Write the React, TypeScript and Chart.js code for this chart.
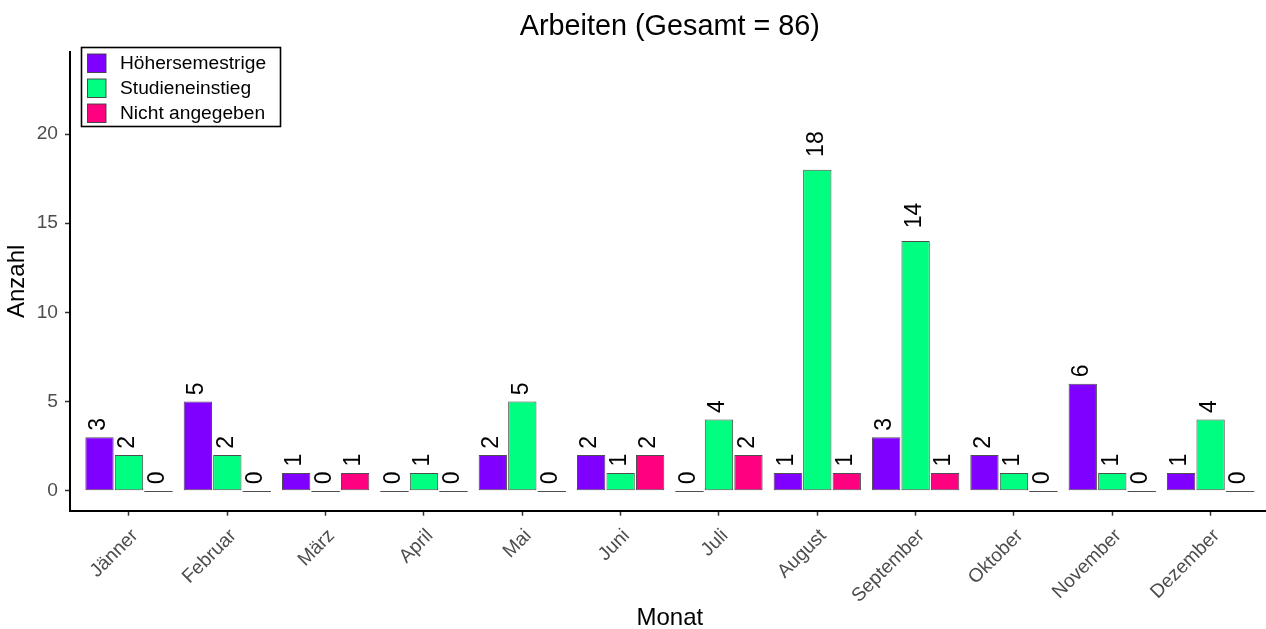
import React, { useEffect, useRef } from 'react';
import { Chart, registerables } from 'chart.js';

Chart.register(...registerables);

const months = ['Jänner', 'Februar', 'März', 'April', 'Mai', 'Juni', 'Juli', 'August', 'September', 'Oktober', 'November', 'Dezember'];
const hoehersemestrige = [3, 5, 1, 0, 2, 2, 0, 1, 3, 2, 6, 1];
const studieneinstieg = [2, 2, 0, 1, 5, 1, 4, 18, 14, 1, 1, 4];
const nichtAngegeben = [0, 0, 1, 0, 0, 2, 2, 1, 1, 0, 0, 0];
const seriesNames = ['Höhersemestrige', 'Studieneinstieg', 'Nicht angegeben'];
const seriesColors = ['#8000FF', '#00FF80', '#FF0080'];
const yTicks = [0, 5, 10, 15, 20];
const xTitle = 'Monat';
const yTitle = 'Anzahl';

const FONT = '"Liberation Sans", Arial, Helvetica, sans-serif';

export default function App() {
  const ref = useRef<HTMLCanvasElement | null>(null);

  useEffect(() => {
    if (!ref.current) return;
    const seriesValues = [hoehersemestrige, studieneinstieg, nichtAngegeben];
    const total = seriesValues.reduce((s, arr) => s + arr.reduce((a, b) => a + b, 0), 0);
    const titleText = `Arbeiten (Gesamt = ${total})`;

    const annot = {
      id: 'annot',
      afterDatasetsDraw(chart: any) {
        const ctx = chart.ctx;
        chart.data.datasets.forEach((ds: any, i: number) => {
          const meta = chart.getDatasetMeta(i);
          meta.data.forEach((bar: any, j: number) => {
            const v = ds.data[j].y;
            const p = bar.getProps(['x', 'y', 'base', 'width'], true);
            if (v === 0) {
              ctx.save();
              ctx.strokeStyle = 'rgba(60,60,60,0.9)';
              ctx.lineWidth = 1;
              ctx.beginPath();
              ctx.moveTo(p.x - p.width / 2, Math.round(p.base) + 0.5);
              ctx.lineTo(p.x + p.width / 2, Math.round(p.base) + 0.5);
              ctx.stroke();
              ctx.restore();
            }
            const text = String(v);
            ctx.save();
            ctx.font = `23px ${FONT}`;
            ctx.fillStyle = '#000';
            ctx.translate(p.x - 1, p.y);
            ctx.rotate(-Math.PI / 2);
            const w = ctx.measureText(text).width;
            ctx.textAlign = 'left';
            ctx.textBaseline = 'middle';
            ctx.fillText(text, 0.5 * w, 0);
            ctx.restore();
          });
        });
      },
      afterDraw(chart: any) {
        const ctx = chart.ctx;
        const ca = chart.chartArea;
        ctx.save();
        // title
        ctx.font = `28.8px ${FONT}`;
        ctx.fillStyle = '#000';
        ctx.textAlign = 'center';
        ctx.textBaseline = 'alphabetic';
        ctx.fillText(titleText, (ca.left + ca.right) / 2, 35);
        // legend
        const bx = 81.5, by = 47.5, bw = 199, bh = 79;
        ctx.fillStyle = '#fff';
        ctx.fillRect(bx, by, bw, bh);
        ctx.strokeStyle = '#000';
        ctx.lineWidth = 1.6;
        ctx.strokeRect(bx, by, bw, bh);
        ctx.font = `19.2px ${FONT}`;
        ctx.textAlign = 'left';
        ctx.textBaseline = 'middle';
        seriesNames.forEach((name, k) => {
          const cy = 63 + k * 25;
          ctx.fillStyle = seriesColors[k];
          ctx.fillRect(87.5, cy - 9, 18.5, 18.5);
          ctx.strokeStyle = 'rgba(60,60,60,0.9)';
          ctx.lineWidth = 1;
          ctx.strokeRect(87.5, cy - 9, 18.5, 18.5);
          ctx.fillStyle = '#000';
          ctx.fillText(name, 120, cy + 1);
        });
        ctx.restore();
      },
    };

    const chart = new Chart(ref.current, {
      type: 'bar',
      data: {
        datasets: seriesValues.map((vals, k) => ({
          label: seriesNames[k],
          data: vals.map((v, i) => ({ x: i, y: v })),
          backgroundColor: seriesColors[k],
          borderColor: 'rgba(60,60,60,0.9)',
          borderWidth: 1,
          borderSkipped: false,
          categoryPercentage: 0.9,
          barPercentage: 0.96,
        })),
      },
      options: {
        responsive: false,
        animation: false,
        layout: { padding: { top: 52, right: 10.4, bottom: 0, left: 0 } },
        plugins: {
          legend: { display: false },
          title: { display: false },
          tooltip: { enabled: false },
        },
        scales: {
          x: {
            type: 'linear',
            min: -0.6,
            max: 11.6,
            offset: false,
            afterBuildTicks: (axis: any) => {
              axis.ticks = months.map((_, i) => ({ value: i }));
            },
            afterFit: (axis: any) => {
              axis.height = 118.3;
              axis.paddingLeft = 0;
              axis.paddingRight = 0;
            },
            ticks: {
              autoSkip: false,
              maxRotation: 45,
              minRotation: 45,
              padding: 9,
              labelOffset: 6,
              color: '#4d4d4d',
              font: { family: FONT, size: 19.2 },
              callback: (v: any) => months[v] ?? '',
            },
            grid: { offset: false, drawOnChartArea: false, drawTicks: true, tickLength: 5, tickColor: '#333', tickWidth: 1.5 },
            border: { display: true, color: '#000', width: 2 },
            title: {
              display: true,
              text: xTitle,
              color: '#000',
              font: { family: FONT, size: 24 },
              padding: { top: 0, bottom: -4 },
            },
          },
          y: {
            type: 'linear',
            min: -1.12,
            max: 24.6,
            afterBuildTicks: (axis: any) => {
              axis.ticks = yTicks.map((v) => ({ value: v }));
            },
            afterFit: (axis: any) => {
              axis.width = 70;
              axis.paddingTop = 0;
              axis.paddingBottom = 0;
            },
            ticks: {
              padding: 7,
              color: '#4d4d4d',
              font: { family: FONT, size: 19.2 },
            },
            grid: { drawOnChartArea: false, drawTicks: true, tickLength: 5, tickColor: '#333', tickWidth: 1.5 },
            border: { display: true, color: '#000', width: 2 },
            title: {
              display: true,
              text: yTitle,
              color: '#000',
              font: { family: FONT, size: 24 },
              padding: { top: 3.2, bottom: 0 },
            },
          },
        },
      },
      plugins: [annot],
    } as any);

    return () => chart.destroy();
  }, []);

  return (
    <div style={{ position: 'fixed', left: 0, top: 0, width: 1266, height: 629, overflow: 'hidden', background: '#fff' }}>
      <div style={{ width: 1280, height: 629 }}>
        <canvas ref={ref} width={1280} height={629} style={{ display: 'block' }} />
      </div>
    </div>
  );
}
